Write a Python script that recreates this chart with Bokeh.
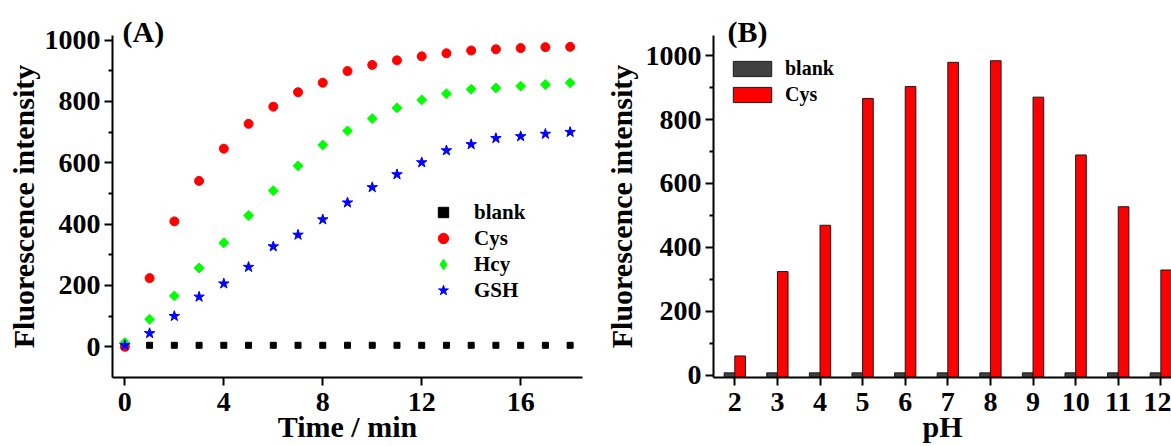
from math import pi

from bokeh.plotting import figure
from bokeh.layouts import row
from bokeh.models import (ColumnDataSource, Range1d, FixedTicker, Legend,
                          LegendItem, Title)
from bokeh.transform import dodge
from bokeh.embed import file_html
from bokeh.resources import INLINE

FONT = "Liberation Serif"

# ---------------- data: panel (A) ----------------
time_min = list(range(19))
blank_a = [5] * 19
cys_a = [0, 224, 409, 541, 646, 727, 783, 830, 861, 899, 919, 934, 947, 957,
         966, 970, 974, 977, 978]
hcy_a = [14, 90, 166, 257, 339, 428, 509, 590, 658, 704, 744, 779, 805, 825,
         840, 844, 850, 855, 861]
gsh_a = [5, 44, 100, 163, 206, 260, 327, 365, 415, 470, 520, 562, 601, 640,
         660, 680, 686, 694, 700]
time_ticks = [0, 4, 8, 12, 16]

# ---------------- data: panel (B) ----------------
ph = [2, 3, 4, 5, 6, 7, 8, 9, 10, 11, 12]
blank_b = [7] * 11
cys_b = [60, 324, 469, 866, 903, 979, 984, 870, 689, 527, 329]

intensity_ticks = [0, 200, 400, 600, 800, 1000]
intensity_minor = [100, 300, 500, 700, 900]

A_X = (-0.5, 18.5)
A_Y = (-100, 1015)
B_X = (1.5, 12.25)
B_Y = (-7.5, 1063)


def style_axes(p, xlabel, ylabel, y_standoff):
    p.xgrid.visible = False
    p.ygrid.visible = False
    p.outline_line_color = None
    p.background_fill_color = "white"
    p.border_fill_color = "white"
    p.xaxis[0].axis_label = xlabel
    p.yaxis[0].axis_label = ylabel
    for ax in (p.xaxis[0], p.yaxis[0]):
        ax.axis_line_width = 2
        ax.axis_line_color = "black"
        ax.major_tick_line_width = 2
        ax.minor_tick_line_width = 2
        ax.major_tick_line_color = "black"
        ax.minor_tick_line_color = "black"
        ax.major_tick_in = 0
        ax.major_tick_out = 8
        ax.minor_tick_in = 0
        ax.minor_tick_out = 4
        ax.major_label_text_font = FONT
        ax.major_label_text_font_style = "bold"
        ax.major_label_text_font_size = "28px"
        ax.major_label_text_color = "black"
        ax.axis_label_text_font = FONT
        ax.axis_label_text_font_style = "bold"
        ax.axis_label_text_font_size = "30px"
        ax.axis_label_text_color = "black"
    p.xaxis[0].major_label_standoff = 7
    p.xaxis[0].axis_label_standoff = -4
    p.yaxis[0].major_label_standoff = 4
    p.yaxis[0].axis_label_standoff = y_standoff


def panel_title(text, offset):
    return Title(text=text, align="left", offset=offset, standoff=-24,
                 text_font=FONT, text_font_style="bold",
                 text_font_size="30px", text_color="black")


# ================= panel (A) =================
pA = figure(width=600, height=446, output_backend="svg", toolbar_location=None,
            x_range=Range1d(*A_X), y_range=Range1d(*A_Y),
            min_border_left=112, min_border_right=18,
            min_border_top=33, min_border_bottom=69)
style_axes(pA, "Time / min", "Fluorescence intensity", 2)
pA.title = panel_title("(A)", 10)
pA.xaxis[0].ticker = FixedTicker(ticks=time_ticks)
pA.yaxis[0].ticker = FixedTicker(ticks=intensity_ticks, minor_ticks=intensity_minor)

srcA = ColumnDataSource(dict(t=time_min, blank=blank_a, cys=cys_a,
                             hcy=hcy_a, gsh=gsh_a))
r_blank = pA.scatter("t", "blank", source=srcA, marker="square", size=6,
                     color="black")
r_cys = pA.scatter("t", "cys", source=srcA, marker="circle", size=9,
                   color="#FF0000")
r_hcy = pA.scatter("t", "hcy", source=srcA, marker="square", angle=pi / 4,
                   size=7, color="#00FF00")
r_gsh = pA.scatter("t", "gsh", source=srcA, marker="star", size=11,
                   color="#0000FF")
# hidden twin of the Hcy series, used only as its legend key
# (the legend draws markers unrotated, so a diamond key stands in)
r_hcy_key = pA.scatter("t", "hcy", source=srcA, marker="diamond", size=10,
                       color="#00FF00", visible=False)

legA = Legend(items=[LegendItem(label="blank", renderers=[r_blank]),
                     LegendItem(label="Cys", renderers=[r_cys]),
                     LegendItem(label="Hcy", renderers=[r_hcy_key]),
                     LegendItem(label="GSH", renderers=[r_gsh])],
              location=(318, 74), border_line_color=None,
              background_fill_alpha=0, padding=0, margin=0, spacing=0,
              inactive_fill_alpha=0,
              glyph_width=26, glyph_height=26, label_height=26,
              label_standoff=18, label_text_font=FONT,
              label_text_font_style="bold", label_text_font_size="21px",
              label_text_color="black")
pA.add_layout(legA)

# ================= panel (B) =================
pB = figure(width=571, height=446, output_backend="svg", toolbar_location=None,
            x_range=Range1d(*B_X), y_range=Range1d(*B_Y),
            min_border_left=113, min_border_right=0,
            min_border_top=35, min_border_bottom=69)
style_axes(pB, "pH", "Fluorescence intensity", 5)
pB.title = panel_title("(B)", 14)
pB.xaxis[0].ticker = FixedTicker(ticks=ph)
pB.yaxis[0].ticker = FixedTicker(ticks=intensity_ticks, minor_ticks=intensity_minor)

srcB = ColumnDataSource(dict(ph=ph, blank=blank_b, cys=cys_b))
rb_blank = pB.vbar(x=dodge("ph", -0.125, range=pB.x_range), top="blank",
                   bottom=B_Y[0], width=0.25, source=srcB,
                   fill_color="#414141", line_color="#1a1a1a", line_width=1)
rb_cys = pB.vbar(x=dodge("ph", 0.125, range=pB.x_range), top="cys",
                 bottom=B_Y[0], width=0.25, source=srcB,
                 fill_color="#FF0000", line_color="#1a1a1a", line_width=1)

legB = Legend(items=[LegendItem(label="blank", renderers=[rb_blank]),
                     LegendItem(label="Cys", renderers=[rb_cys])],
              location=(15, 271), border_line_color=None,
              background_fill_alpha=0, padding=0, margin=0, spacing=3,
              glyph_width=48, glyph_height=19, label_height=19,
              label_standoff=9, label_text_font=FONT,
              label_text_font_style="bold", label_text_font_size="20px",
              label_text_color="black")
pB.add_layout(legB)

layout = row(pA, pB)
open("out.html", "w").write(file_html(layout, INLINE))
